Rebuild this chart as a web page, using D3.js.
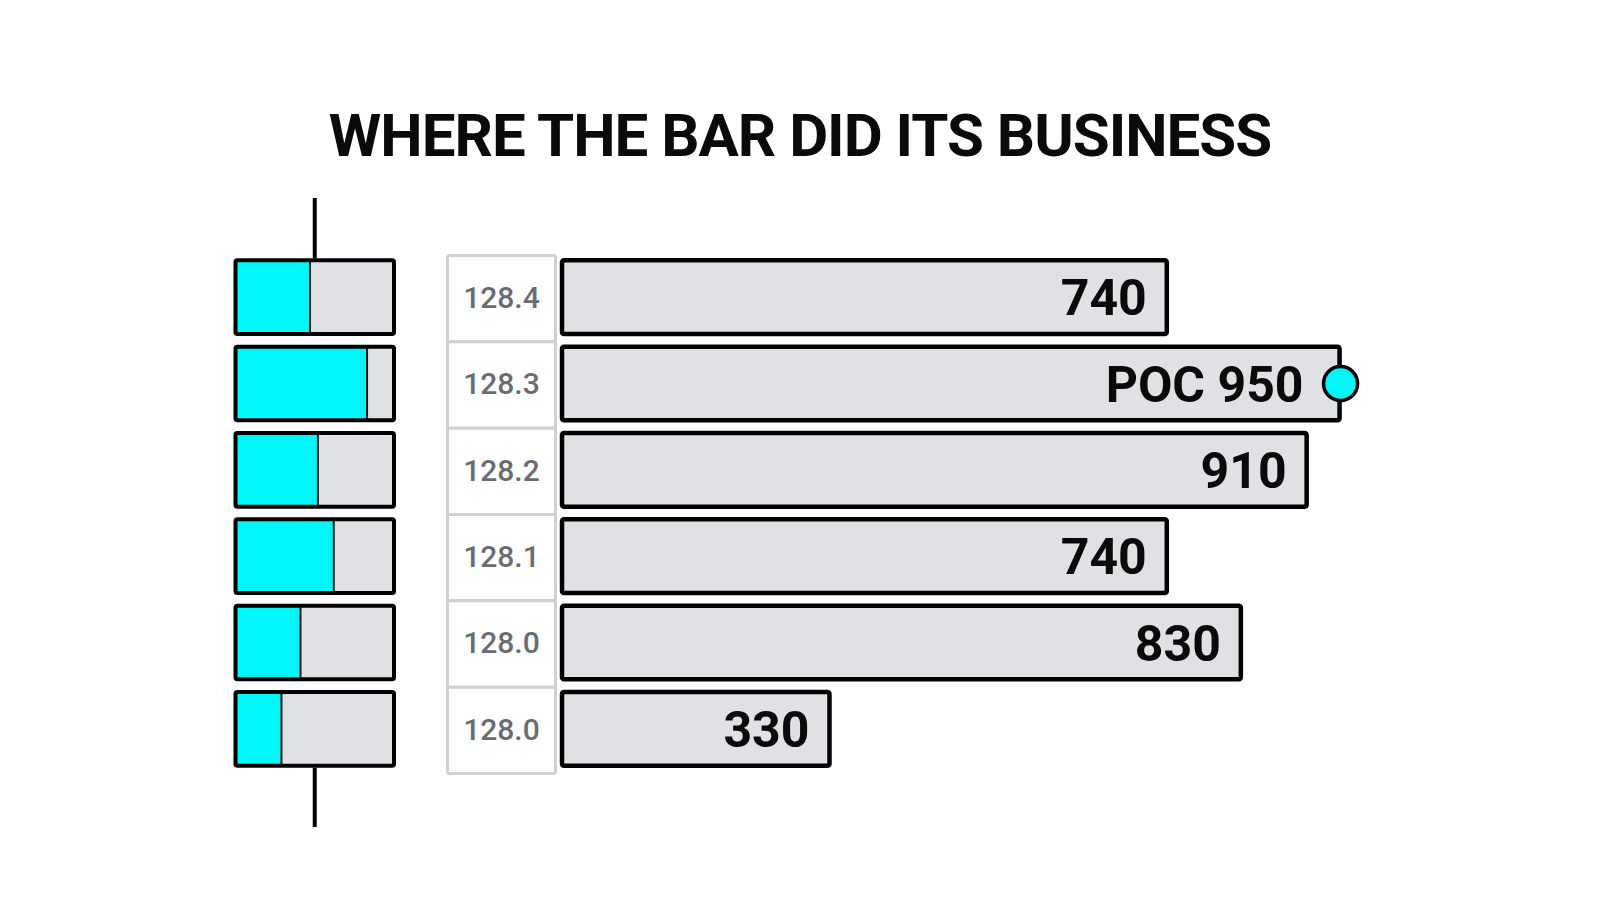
<!DOCTYPE html>
<html>
<head>
<meta charset="utf-8">
<script src="https://cdn.jsdelivr.net/npm/d3@7"></script>
<style>
  html, body { margin: 0; padding: 0; background: #fff; }
  svg { display: block; font-family: Roboto, "Noto Sans", sans-serif; }
</style>
</head>
<body>
<svg width="1600" height="914"></svg>
<script>
// price levels, top to bottom
var prices = ["128.4", "128.3", "128.2", "128.1", "128.0", "128.0"];
// volume traded at each level
var volumes = [740, 950, 910, 740, 830, 330];
// share of the volume that was buying (cyan part of the left boxes)
var buyShare = [0.47, 0.83, 0.52, 0.62, 0.41, 0.29];
var title = "WHERE THE BAR DID ITS BUSINESS";

var svg = d3.select("svg");
var width = +svg.attr("width");

var cyan = "#00f6f8";
var gray = "#e0e1e4";

var rows = d3.range(prices.length);
var poc = d3.maxIndex(volumes);

var y = d3.scaleBand()
    .domain(rows)
    .range([254, 772])
    .paddingInner(0.1)
    .paddingOuter(0.05);

// candle body boxes
var bx = d3.scaleLinear().domain([0, 1]).range([235.5, 394]);
// volume bars
var x = d3.scaleLinear().domain([0, 1000]).range([560, 560 + 822.7]);

svg.append("text")
    .attr("x", width / 2)
    .attr("y", 156)
    .attr("text-anchor", "middle")
    .attr("font-size", 60)
    .attr("font-weight", 700)
    .attr("letter-spacing", -1)
    .attr("fill", "#0a0a0a")
    .text(title);

// wick
var first = y(rows[0]), last = y(rows[rows.length - 1]) + y.bandwidth();
svg.append("line")
    .attr("x1", bx(0.5)).attr("x2", bx(0.5))
    .attr("y1", 198).attr("y2", first)
    .attr("stroke", "#000").attr("stroke-width", 4);
svg.append("line")
    .attr("x1", bx(0.5)).attr("x2", bx(0.5))
    .attr("y1", last).attr("y2", 827)
    .attr("stroke", "#000").attr("stroke-width", 4);

var box = svg.append("g").attr("class", "boxes")
  .selectAll("g")
  .data(rows)
  .enter().append("g");

box.append("rect")
    .attr("x", bx(0))
    .attr("y", d => y(d) + 2)
    .attr("width", bx(1) - bx(0))
    .attr("height", y.bandwidth() - 4)
    .attr("fill", gray);

box.append("rect")
    .attr("x", bx(0))
    .attr("y", d => y(d) + 2)
    .attr("width", d => bx(buyShare[d]) - bx(0))
    .attr("height", y.bandwidth() - 4)
    .attr("fill", cyan);

box.append("line")
    .attr("x1", d => bx(buyShare[d])).attr("x2", d => bx(buyShare[d]))
    .attr("y1", d => y(d) + 2).attr("y2", d => y(d) + y.bandwidth() - 2)
    .attr("stroke", "#111").attr("stroke-width", 2);

box.append("rect")
    .attr("x", bx(0))
    .attr("y", d => y(d) + 2)
    .attr("width", bx(1) - bx(0))
    .attr("height", y.bandwidth() - 4)
    .attr("rx", 2)
    .attr("fill", "none")
    .attr("stroke", "#000")
    .attr("stroke-width", 4);

// price ladder cells
var cellTop = y.range()[0], cellStep = y.step();
var cell = svg.append("g").attr("class", "cells")
  .selectAll("g")
  .data(rows)
  .enter().append("g");

cell.append("rect")
    .attr("x", 447.5)
    .attr("y", d => cellTop + d * cellStep + 1.5)
    .attr("width", 108)
    .attr("height", cellStep)
    .attr("rx", 2)
    .attr("fill", "#fff")
    .attr("stroke", "#cfd0d2")
    .attr("stroke-width", 3);

cell.append("text")
    .attr("x", 501.5)
    .attr("y", d => y(d) + y.bandwidth() / 2)
    .attr("dy", "0.36em")
    .attr("text-anchor", "middle")
    .attr("font-size", 30)
    .attr("font-weight", 500)
    .attr("fill", "#696c73")
    .text(d => prices[d]);

// volume bars
var bar = svg.append("g").attr("class", "bars")
  .selectAll("g")
  .data(rows)
  .enter().append("g");

bar.append("rect")
    .attr("x", x(0) + 2)
    .attr("y", d => y(d) + 2)
    .attr("width", d => x(volumes[d]) - x(0) - 4)
    .attr("height", y.bandwidth() - 4)
    .attr("rx", 2)
    .attr("fill", gray)
    .attr("stroke", "#000")
    .attr("stroke-width", 4.5);

bar.append("text")
    .attr("x", d => x(volumes[d]) - (d === poc ? 38 : 22))
    .attr("y", d => y(d) + y.bandwidth() / 2)
    .attr("dy", "0.36em")
    .attr("text-anchor", "end")
    .attr("font-size", 50)
    .attr("font-weight", 700)
    .attr("fill", "#0a0a0a")
    .text(d => d === poc ? "POC " + volumes[d] : volumes[d]);

svg.append("circle")
    .attr("cx", x(volumes[poc]) - 1)
    .attr("cy", y(poc) + y.bandwidth() / 2)
    .attr("r", 17)
    .attr("fill", cyan)
    .attr("stroke", "#000")
    .attr("stroke-width", 3.5);
</script>
</body>
</html>
